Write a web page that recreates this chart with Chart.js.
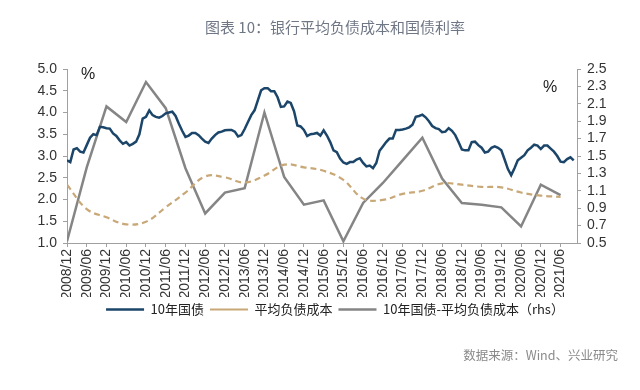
<!DOCTYPE html>
<html>
<head>
<meta charset="utf-8">
<script src="https://cdn.jsdelivr.net/npm/chart.js@4.4.1/dist/chart.umd.min.js"></script>
<style>
  html, body { margin: 0; padding: 0; background: #fff; }
  #wrap { width: 640px; height: 390px; position: relative; }
</style>
</head>
<body>
<div id="wrap"><canvas id="chart" width="640" height="390"></canvas></div>
<script>
// half-year tick labels (one every 6 months, starting 2008/12)
const halfYearLabels = ['2008/12', '2009/06', '2009/12', '2010/06', '2010/12', '2011/06', '2011/12',
    '2012/06', '2012/12', '2013/06', '2013/12', '2014/06', '2014/12', '2015/06', '2015/12',
    '2016/06', '2016/12', '2017/06', '2017/12', '2018/06', '2018/12', '2019/06', '2019/12',
    '2020/06', '2020/12', '2021/06'];

// 10年国债, monthly from 2008/12
const bond10y = [
    2.90, 2.86, 3.15, 3.18, 3.10, 3.08, 3.25, 3.42, 3.50, 3.48, 3.67, 3.66,
    3.64, 3.63, 3.52, 3.46, 3.36, 3.28, 3.32, 3.24, 3.28, 3.33, 3.50, 3.86,
    3.90, 4.05, 3.94, 3.90, 3.88, 3.92, 3.98, 4.00, 4.02, 3.92, 3.74, 3.58,
    3.44, 3.47, 3.53, 3.53, 3.48, 3.40, 3.33, 3.30, 3.40, 3.48, 3.54, 3.56,
    3.59, 3.60, 3.60, 3.56, 3.45, 3.48, 3.62, 3.78, 3.94, 4.05, 4.28, 4.51,
    4.56, 4.56, 4.49, 4.49, 4.35, 4.13, 4.14, 4.25, 4.22, 4.03, 3.70, 3.68,
    3.60, 3.46, 3.50, 3.51, 3.53, 3.47, 3.59, 3.47, 3.32, 3.13, 3.09, 2.94,
    2.85, 2.82, 2.86, 2.86, 2.92, 2.95, 2.84, 2.76, 2.78, 2.72, 2.84, 3.12,
    3.22, 3.32, 3.40, 3.40, 3.60, 3.60, 3.61, 3.63, 3.66, 3.72, 3.90, 3.92,
    3.95, 3.89, 3.80, 3.69, 3.64, 3.62, 3.55, 3.56, 3.64, 3.58, 3.48, 3.32,
    3.15, 3.13, 3.13, 3.32, 3.33, 3.25, 3.19, 3.08, 3.10, 3.19, 3.22, 3.19,
    3.13, 2.92, 2.70, 2.56, 2.72, 2.90, 2.96, 3.02, 3.13, 3.19, 3.26, 3.24,
    3.16, 3.24, 3.24, 3.17, 3.10, 3.00, 2.87, 2.86, 2.93, 2.97, 2.90
];

// 平均负债成本, half-yearly
const avgLiabCost = [2.34, 1.78, 1.59, 1.43, 1.49, 1.82, 2.16, 2.53, 2.51, 2.39, 2.55, 2.80, 2.74,
    2.66, 2.45, 2.02, 1.99, 2.13, 2.20, 2.37, 2.34, 2.29, 2.28, 2.16, 2.09, 2.06];

// 10年国债-平均负债成本 (rhs), half-yearly
const spread = [0.52, 1.37, 2.07, 1.89, 2.35, 2.05, 1.36, 0.84, 1.08, 1.13, 2.00, 1.26, 0.94,
    0.99, 0.52, 0.96, 1.19, 1.45, 1.71, 1.24, 0.96, 0.94, 0.91, 0.69, 1.17, 1.05];

const monthly = bond10y.map((v, i) => ({ x: i, y: v }));
const halfYear = arr => arr.map((v, i) => ({ x: i * 6, y: v }));

const AXIS_COLOR = '#a0a0a0';
const TICK_FONT = { family: 'Liberation Sans', size: 14 };

// "%" unit marks and the source line
const extraText = {
    id: 'extraText',
    afterDraw(chart) {
        const ctx = chart.ctx;
        ctx.save();
        ctx.fillStyle = '#222';
        ctx.font = '16px "Liberation Sans"';
        ctx.textAlign = 'center';
        ctx.textBaseline = 'middle';
        ctx.fillText('%', 88, 75);
        ctx.fillText('%', 550, 88);
        ctx.fillStyle = '#8a8a8a';
        ctx.font = '12.5px "Noto Sans CJK SC"';
        ctx.textAlign = 'right';
        ctx.fillText('数据来源：Wind、兴业研究', 618, 355);
        ctx.restore();
    }
};

const ctx = document.getElementById('chart').getContext('2d');
new Chart(ctx, {
    type: 'line',
    data: {
        datasets: [{
            label: '10年国债',
            data: monthly,
            yAxisID: 'y',
            borderColor: '#1b4569',
            borderWidth: 2.5,
            pointRadius: 0,
            tension: 0
        }, {
            label: '平均负债成本',
            data: halfYear(avgLiabCost),
            yAxisID: 'y',
            borderColor: '#c9a878',
            borderDash: [6, 4],
            borderWidth: 2.2,
            pointRadius: 0,
            tension: 0.4
        }, {
            label: '10年国债-平均负债成本（rhs）',
            data: halfYear(spread),
            yAxisID: 'y1',
            borderColor: '#858585',
            borderWidth: 2.5,
            pointRadius: 0,
            tension: 0
        }]
    },
    options: {
        responsive: false,
        animation: false,
        layout: { padding: { left: 30, right: 0, top: 0, bottom: 64 } },
        plugins: {
            title: {
                display: true,
                text: '图表 10：银行平均负债成本和国债利率',
                color: '#6f7785',
                font: { family: 'Noto Sans CJK SC', size: 15, weight: 'normal' },
                padding: { top: 18, bottom: 33 }
            },
            legend: {
                position: 'bottom',
                labels: {
                    usePointStyle: true,
                    pointStyle: 'line',
                    pointStyleWidth: 38,
                    boxHeight: 13,
                    padding: 6,
                    color: '#222',
                    font: { family: 'Noto Sans CJK SC', size: 13 }
                }
            },
            tooltip: { enabled: false }
        },
        scales: {
            x: {
                type: 'linear',
                min: 0,
                max: 155,
                border: { color: AXIS_COLOR },
                grid: { drawOnChartArea: false, color: AXIS_COLOR, tickLength: 4 },
                afterFit: scale => { scale.height = 54; },
                ticks: {
                    stepSize: 6,
                    includeBounds: false,
                    autoSkip: false,
                    maxRotation: 90,
                    minRotation: 90,
                    padding: 2,
                    color: '#333',
                    font: TICK_FONT,
                    callback: v => halfYearLabels[v / 6] || ''
                }
            },
            y: {
                position: 'left',
                min: 1,
                max: 5,
                border: { color: AXIS_COLOR },
                grid: { drawOnChartArea: false, color: AXIS_COLOR, tickLength: 4 },
                afterFit: scale => { scale.width = 37; },
                ticks: {
                    stepSize: 0.5,
                    autoSkip: false,
                    padding: 6,
                    color: '#333',
                    font: TICK_FONT,
                    callback: v => v.toFixed(1)
                }
            },
            y1: {
                position: 'right',
                min: 0.5,
                max: 2.5,
                border: { color: AXIS_COLOR },
                grid: { drawOnChartArea: false, color: AXIS_COLOR, tickLength: 4 },
                afterFit: scale => { scale.width = 63; },
                ticks: {
                    stepSize: 0.2,
                    autoSkip: false,
                    padding: 6,
                    color: '#333',
                    font: TICK_FONT,
                    callback: v => v.toFixed(1)
                }
            }
        }
    },
    plugins: [extraText]
});
</script>
</body>
</html>
